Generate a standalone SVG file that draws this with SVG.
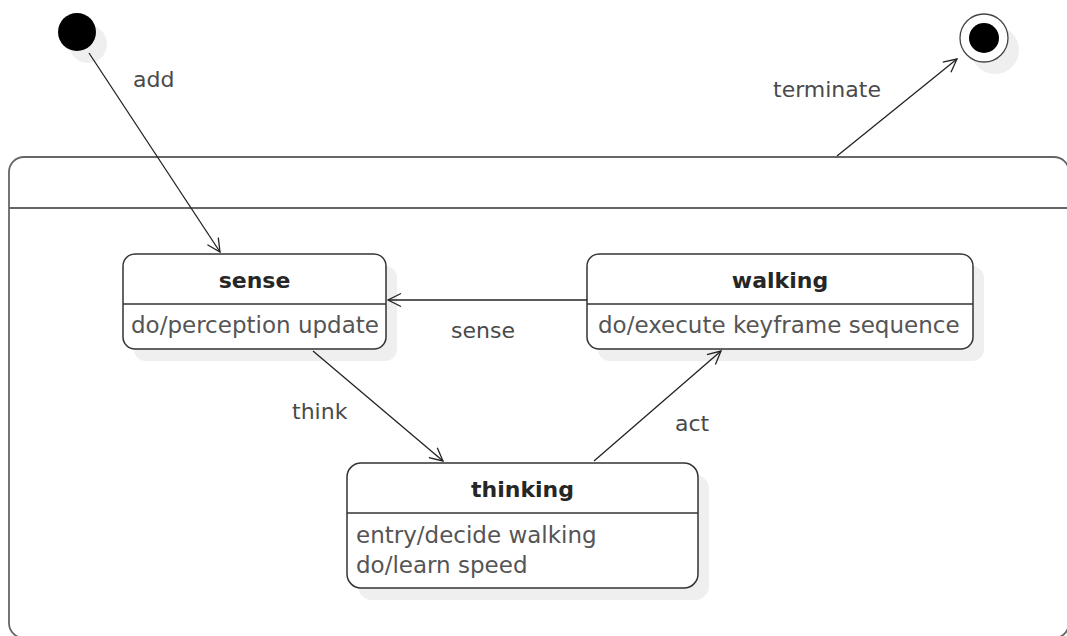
<svg xmlns="http://www.w3.org/2000/svg" width="1067" height="636" viewBox="0 0 1067 636">
<style>
  .shadow { fill: #efefef; }
  .node { fill: #ffffff; stroke: #333333; stroke-width: 1.5; }
  .div { stroke: #333333; stroke-width: 1.5; }
  .container { fill: #ffffff; stroke: #666666; stroke-width: 1.8; }
  .title { font-family: "DejaVu Sans", sans-serif; font-size: 22px; font-weight: bold; fill: #262626; text-anchor: middle; }
  .body { font-family: "DejaVu Sans", sans-serif; font-size: 23px; fill: #555555; }
  .label { font-family: "DejaVu Sans", sans-serif; font-size: 22px; fill: #4a4a4a; }
  .edge { fill: none; stroke: #222222; stroke-width: 1.3; marker-end: url(#open); }
</style>
<defs>
  <marker id="open" markerUnits="userSpaceOnUse" markerWidth="16" markerHeight="16" viewBox="0 0 16 16" refX="14" refY="8" orient="auto">
    <path d="M1,1.5 L14,8 L1,14.5" fill="none" stroke="#222222" stroke-width="1.3"/>
  </marker>
</defs>
<rect width="1067" height="636" fill="#ffffff"/>

<g id="container">
  <rect class="container" x="9" y="157" width="1060" height="481" rx="15"/>
  <line x1="9" y1="208" x2="1069" y2="208" stroke="#666666" stroke-width="1.8"/>
</g>

<g id="initial">
  <circle class="shadow" cx="88" cy="44" r="19"/>
  <circle cx="77" cy="32" r="19" fill="#000000"/>
</g>

<g id="final">
  <circle class="shadow" cx="995" cy="50" r="24"/>
  <circle cx="984" cy="38" r="24" fill="#ffffff" stroke="#444444" stroke-width="1.3"/>
  <circle cx="984" cy="38" r="15" fill="#000000"/>
</g>

<g id="sense">
  <rect class="shadow" x="134" y="266" width="263" height="95" rx="12"/>
  <rect class="node" x="123" y="254" width="263" height="95" rx="12"/>
  <line class="div" x1="123" y1="304" x2="386" y2="304"/>
  <text class="title" x="254.5" y="288">sense</text>
  <text class="body" x="131" y="333">do/perception update</text>
</g>

<g id="walking">
  <rect class="shadow" x="598" y="266" width="386" height="95" rx="12"/>
  <rect class="node" x="587" y="254" width="386" height="95" rx="12"/>
  <line class="div" x1="587" y1="304" x2="973" y2="304"/>
  <text class="title" x="780" y="288">walking</text>
  <text class="body" x="598" y="333">do/execute keyframe sequence</text>
</g>

<g id="thinking">
  <rect class="shadow" x="358" y="475" width="351" height="125" rx="14"/>
  <rect class="node" x="347" y="463" width="351" height="125" rx="14"/>
  <line class="div" x1="347" y1="513" x2="698" y2="513"/>
  <text class="title" x="522.5" y="497">thinking</text>
  <text class="body" x="356" y="543">entry/decide walking</text>
  <text class="body" x="356" y="573">do/learn speed</text>
</g>

<g id="connectors">
  <line class="edge" x1="89" y1="53" x2="220" y2="252"/>
  <text class="label" x="133" y="87">add</text>
  <line class="edge" x1="837" y1="156" x2="957" y2="59"/>
  <text class="label" x="773" y="97">terminate</text>
  <line class="edge" x1="587" y1="300" x2="388" y2="300"/>
  <text class="label" x="451" y="338">sense</text>
  <line class="edge" x1="313" y1="351" x2="443" y2="461"/>
  <text class="label" x="292" y="419">think</text>
  <line class="edge" x1="594" y1="461" x2="721" y2="351"/>
  <text class="label" x="675" y="431">act</text>
</g>
</svg>
